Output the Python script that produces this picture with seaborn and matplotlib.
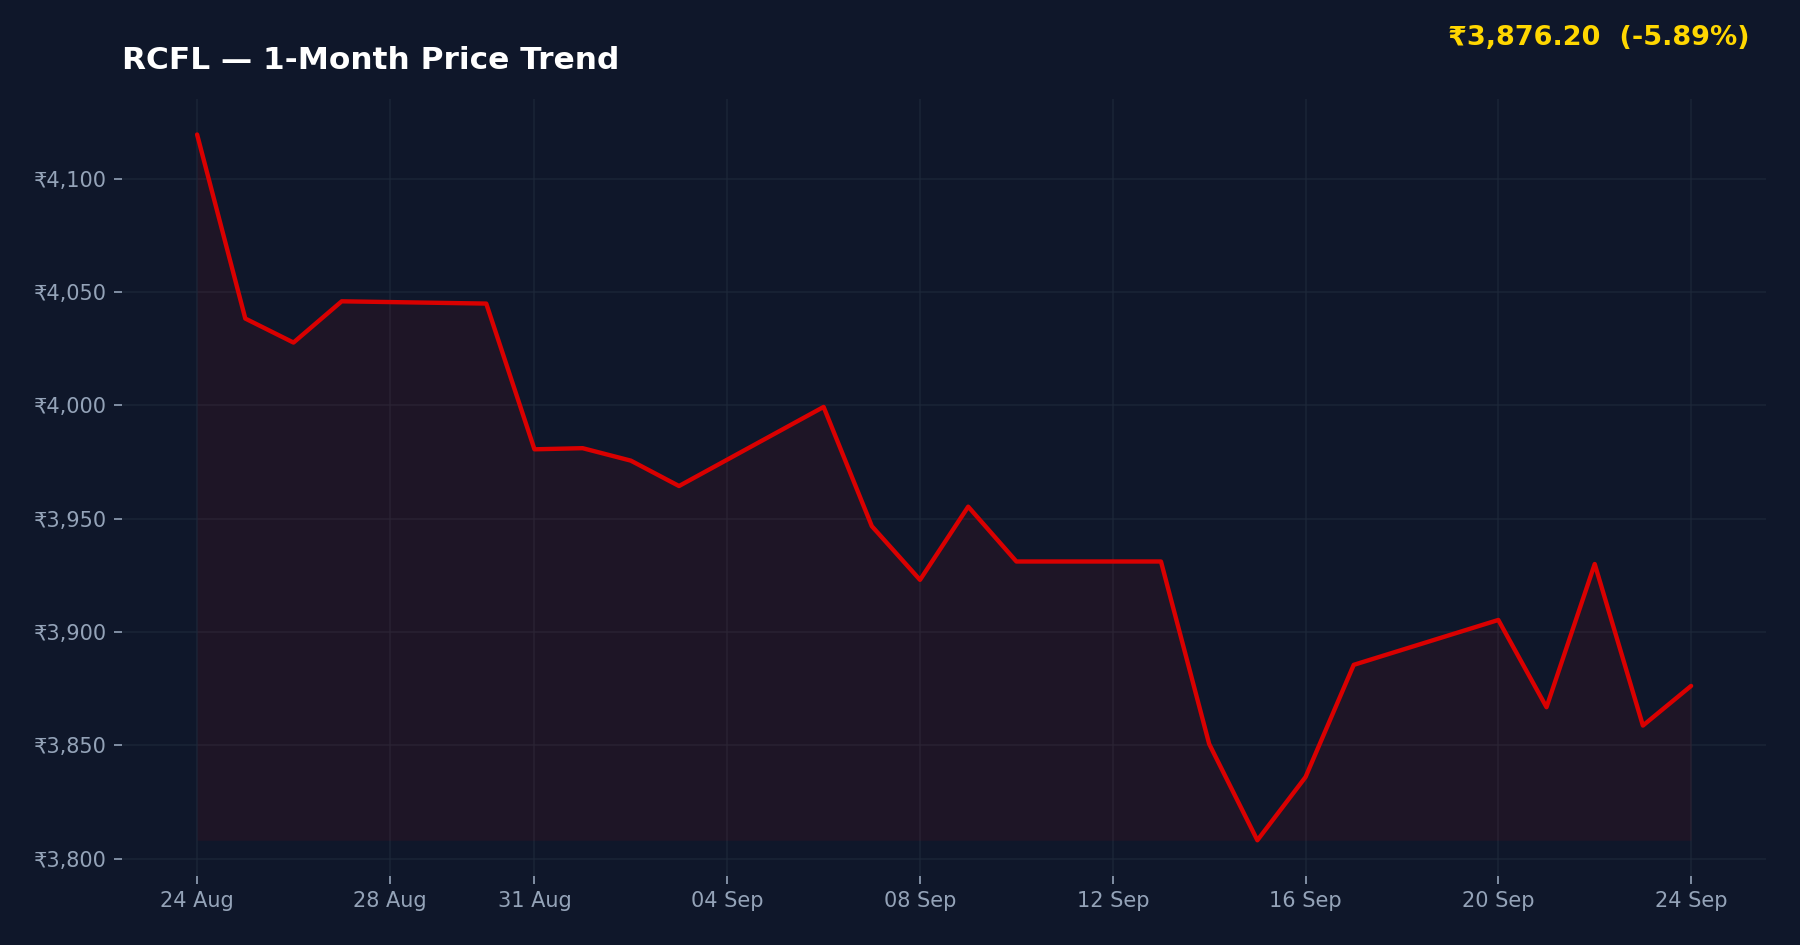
import matplotlib
matplotlib.use("Agg")
import matplotlib.pyplot as plt
import matplotlib.dates as mdates
import matplotlib.ticker as mticker
import seaborn as sns
import pandas as pd

dates = ["2024-08-24", "2024-08-25", "2024-08-26", "2024-08-27", "2024-08-30",
         "2024-08-31", "2024-09-01", "2024-09-02", "2024-09-03", "2024-09-06",
         "2024-09-07", "2024-09-08", "2024-09-09", "2024-09-10", "2024-09-13",
         "2024-09-14", "2024-09-15", "2024-09-16", "2024-09-17", "2024-09-20",
         "2024-09-21", "2024-09-22", "2024-09-23", "2024-09-24"]
prices = [4119.5, 4038.3, 4027.7, 4045.9, 4044.9,
          3980.6, 3981.1, 3975.6, 3964.4, 3999.3,
          3946.7, 3923.0, 3955.3, 3931.1, 3931.1,
          3850.6, 3808.1, 3836.0, 3885.5, 3905.3,
          3866.8, 3930.0, 3858.7, 3876.2]
tick_dates = ["2024-08-24", "2024-08-28", "2024-08-31", "2024-09-04", "2024-09-08",
              "2024-09-12", "2024-09-16", "2024-09-20", "2024-09-24"]
title = "RCFL — 1-Month Price Trend"
badge = "₹3,876.20  (-5.89%)"

BG = "#0f172a"
GRID = "#1e293b"
TXT = "#94a3b8"
RED = "#d90000"

df = pd.DataFrame({"date": pd.to_datetime(dates), "price": prices})

sns.set_theme(style="dark")
plt.rcParams["font.family"] = ["DejaVu Sans"]

fig = plt.figure(figsize=(12, 6.3), dpi=150, facecolor=BG)
ax = fig.add_axes([0.068, 0.0735, 0.913, 0.8215])
ax.set_facecolor(BG)

sns.lineplot(data=df, x="date", y="price", ax=ax, color=RED, linewidth=2.1)
ax.fill_between(df["date"], df["price"], df["price"].min(), color=RED, alpha=0.08, linewidth=0)

ax.set_xticks(pd.to_datetime(tick_dates))
ax.xaxis.set_major_formatter(mdates.DateFormatter("%d %b"))
ax.yaxis.set_major_locator(mticker.MultipleLocator(50))
ax.yaxis.set_major_formatter(mticker.FuncFormatter(lambda v, p: f"₹{v:,.0f}"))

ax.grid(True, color=GRID, linewidth=0.8, alpha=0.7)
for s in ax.spines.values():
    s.set_visible(False)
ax.tick_params(axis="both", colors=TXT, labelsize=10, length=4, width=0.8,
               bottom=True, left=True, labelcolor=TXT)
ax.set_xlabel("")
ax.set_ylabel("")

ax.set_title(title, loc="left", color="white", fontsize=15, fontweight="bold", pad=14.5)
fig.text(0.972, 0.96, badge, color="#FFD700", fontsize=13, fontweight="bold",
         ha="right", va="center")

fig.savefig("out.png", dpi=150, facecolor=BG)
